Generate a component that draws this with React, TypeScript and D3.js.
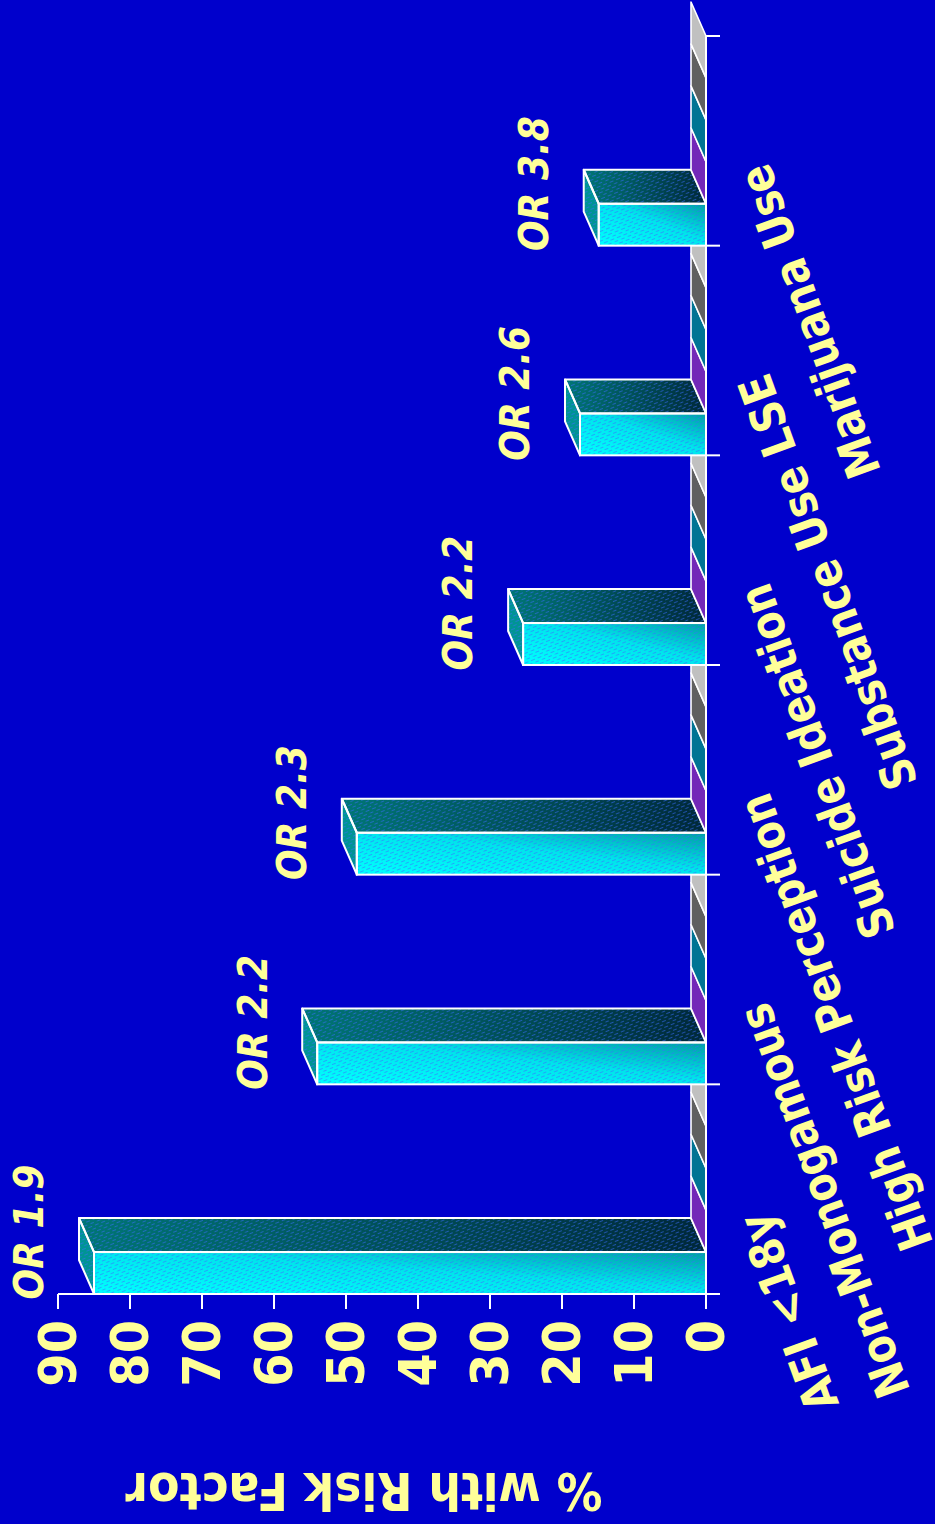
import React from "react";
import * as d3 from "d3";

// ---------- data ----------
const categories = [
  "AFI <18y",
  "Non-Monogamous",
  "High Risk Perception",
  "Suicide Ideation",
  "Substance Use LSE",
  "Marijuana Use",
];
const riskValues = [85, 54, 48.5, 25.4, 17.5, 14.9];
const series2Values = [0, 0, 0, 0, 0, 0];
const series3Values = [0, 0, 0, 0, 0, 0];
const series4Values = [0, 0, 0, 0, 0, 0];
const series5Values = [0, 0, 0, 0, 0, 0];
const seriesNames = ["Risk factor", "Series 2", "Series 3", "Series 4", "Series 5"];
const oddsRatioLabels = ["OR 1.9", "OR 2.2", "OR 2.3", "OR 2.2", "OR 2.6", "OR 3.8"];
const valueTicks = [0, 10, 20, 30, 40, 50, 60, 70, 80, 90];
const axisTitle = "% with Risk Factor";

// ---------- style / layout ----------
const W = 935;
const H = 1524;
const BG = "#0000cc";
const YELLOW = "#ffff99";
const FONT = "'DejaVu Sans', Verdana, sans-serif";
const DX = -15; // 3D depth offset
const DY = -34;
const slabColors = ["#009898", "#7328b8", "#007494", "#606060", "#c0c0c0"];

export default function App() {
  const allValues = [riskValues, series2Values, series3Values, series4Values, series5Values];

  const x = d3.scaleLinear().domain([0, 90]).range([706, 58]);
  const band = d3.scaleBand<string>().domain(categories).range([1294, 36]).padding(0);
  const bw = band.bandwidth();
  const inner = d3.scaleBand<string>().domain(seriesNames).range([bw, 0]).padding(0);
  const ibw = inner.bandwidth();
  const x0 = x(0);
  const yAxis = band.range()[0];

  const pts = (p: number[][]) => p.map((q) => q.join(",")).join(" ");

  const bars: JSX.Element[] = [];
  categories.forEach((cat, ci) => {
    seriesNames.forEach((s, si) => {
      const v = allValues[si][ci];
      const xv = x(v);
      const yb = (band(cat) as number) + (inner(s) as number) + ibw;
      const yt = yb - ibw;
      const key = `${ci}-${si}`;
      const endFace = [
        [xv, yt],
        [xv, yb],
        [xv + DX, yb + DY],
        [xv + DX, yt + DY],
      ];
      if (v === 0) {
        bars.push(
          <polygon key={key} points={pts(endFace)} fill={slabColors[si]} stroke="#ffffff" strokeWidth={1.6} strokeLinejoin="round" />
        );
        return;
      }
      const topFace = [
        [xv, yt],
        [x0, yt],
        [x0 + DX, yt + DY],
        [xv + DX, yt + DY],
      ];
      bars.push(
        <g key={key}>
          <polygon points={pts(topFace)} fill="url(#gTop)" />
          <polygon points={pts(topFace)} fill="url(#hatch)" />
          <polygon points={pts(endFace)} fill="#009494" />
          <polygon points={pts(endFace)} fill="url(#hatch)" />
          <rect x={xv} y={yt} width={x0 - xv} height={ibw} fill="url(#gFront)" />
          <rect x={xv} y={yt} width={x0 - xv} height={ibw} fill="url(#hatch)" />
          <polygon points={pts(topFace)} fill="none" stroke="#ffffff" strokeWidth={2} strokeLinejoin="round" />
          <polygon points={pts(endFace)} fill="none" stroke="#ffffff" strokeWidth={2} strokeLinejoin="round" />
          <rect x={xv} y={yt} width={x0 - xv} height={ibw} fill="none" stroke="#ffffff" strokeWidth={2} />
        </g>
      );
    });
  });

  const catBoundaries = [...categories.map((c) => (band(c) as number) + bw), band.range()[1]];

  return (
    <svg
      width={W}
      height={H}
      viewBox={`0 0 ${W} ${H}`}
      style={{ position: "absolute", left: 0, top: 0, display: "block" }}
    >
      <defs>
        <linearGradient id="gFront" x1="0" y1="1" x2="1" y2="0">
          <stop offset="0" stopColor="#00ffff" />
          <stop offset="0.55" stopColor="#00e4ec" />
          <stop offset="1" stopColor="#009ea4" />
        </linearGradient>
        <linearGradient id="gTop" x1="0" y1="0" x2="1" y2="0">
          <stop offset="0" stopColor="#007676" />
          <stop offset="1" stopColor="#00283a" />
        </linearGradient>
        <pattern id="hatch" width="7" height="6" patternUnits="userSpaceOnUse" patternTransform="rotate(-22)">
          <line x1="0" y1="1.5" x2="4" y2="1.5" stroke="#3a6cff" strokeWidth="1" opacity="0.55" />
          <line x1="3.5" y1="4.5" x2="7.5" y2="4.5" stroke="#3a6cff" strokeWidth="1" opacity="0.55" />
        </pattern>
      </defs>
      <rect x={0} y={0} width={W} height={H} fill={BG} />

      {bars}

      {/* category (floor front) axis */}
      <line x1={x0} x2={x0} y1={band.range()[1]} y2={yAxis} stroke="#ffffff" strokeWidth={2} />
      {catBoundaries.map((y, i) => (
        <line key={`ct${i}`} x1={x0} x2={x0 + 14} y1={y} y2={y} stroke="#ffffff" strokeWidth={2} />
      ))}

      {/* value axis */}
      <line x1={x(90)} x2={x0} y1={yAxis} y2={yAxis} stroke="#ffffff" strokeWidth={2} />
      {valueTicks.map((t) => (
        <line key={`vt${t}`} x1={x(t)} x2={x(t)} y1={yAxis} y2={yAxis + 15} stroke="#ffffff" strokeWidth={2} />
      ))}
      {valueTicks.map((t) => (
        <text
          key={`vl${t}`}
          transform={`translate(${x(t)},${yAxis + 26}) rotate(-90) scale(0.94,1)`}
          textAnchor="end"
          dominantBaseline="central"
          fill={YELLOW}
          fontFamily={FONT}
          fontWeight="bold"
          fontSize={51}
        >
          {t}
        </text>
      ))}

      {/* axis title */}
      <text
        transform={`translate(364,1491) rotate(180) scale(0.88,1)`}
        textAnchor="middle"
        dominantBaseline="central"
        fill={YELLOW}
        fontFamily={FONT}
        fontWeight="bold"
        fontSize={52}
      >
        {axisTitle}
      </text>

      {/* category labels */}
      {categories.map((c) => (
        <text
          key={`cl${c}`}
          transform={`translate(753,${(band(c) as number) + bw / 2 + 26}) rotate(-110) scale(0.87,1)`}
          textAnchor="end"
          dominantBaseline="central"
          fill={YELLOW}
          fontFamily={FONT}
          fontWeight="bold"
          fontSize={47}
        >
          {c}
        </text>
      ))}

      {/* odds ratio labels */}
      {categories.map((c, i) => (
        <text
          key={`or${i}`}
          transform={`translate(${x(riskValues[i]) + DX - 50},${(band(c) as number) + bw - 62}) rotate(-90) scale(0.88,1)`}
          textAnchor="middle"
          dominantBaseline="central"
          fill={YELLOW}
          fontFamily={FONT}
          fontWeight="bold"
          fontStyle="italic"
          fontSize={41}
        >
          {oddsRatioLabels[i]}
        </text>
      ))}
    </svg>
  );
}
